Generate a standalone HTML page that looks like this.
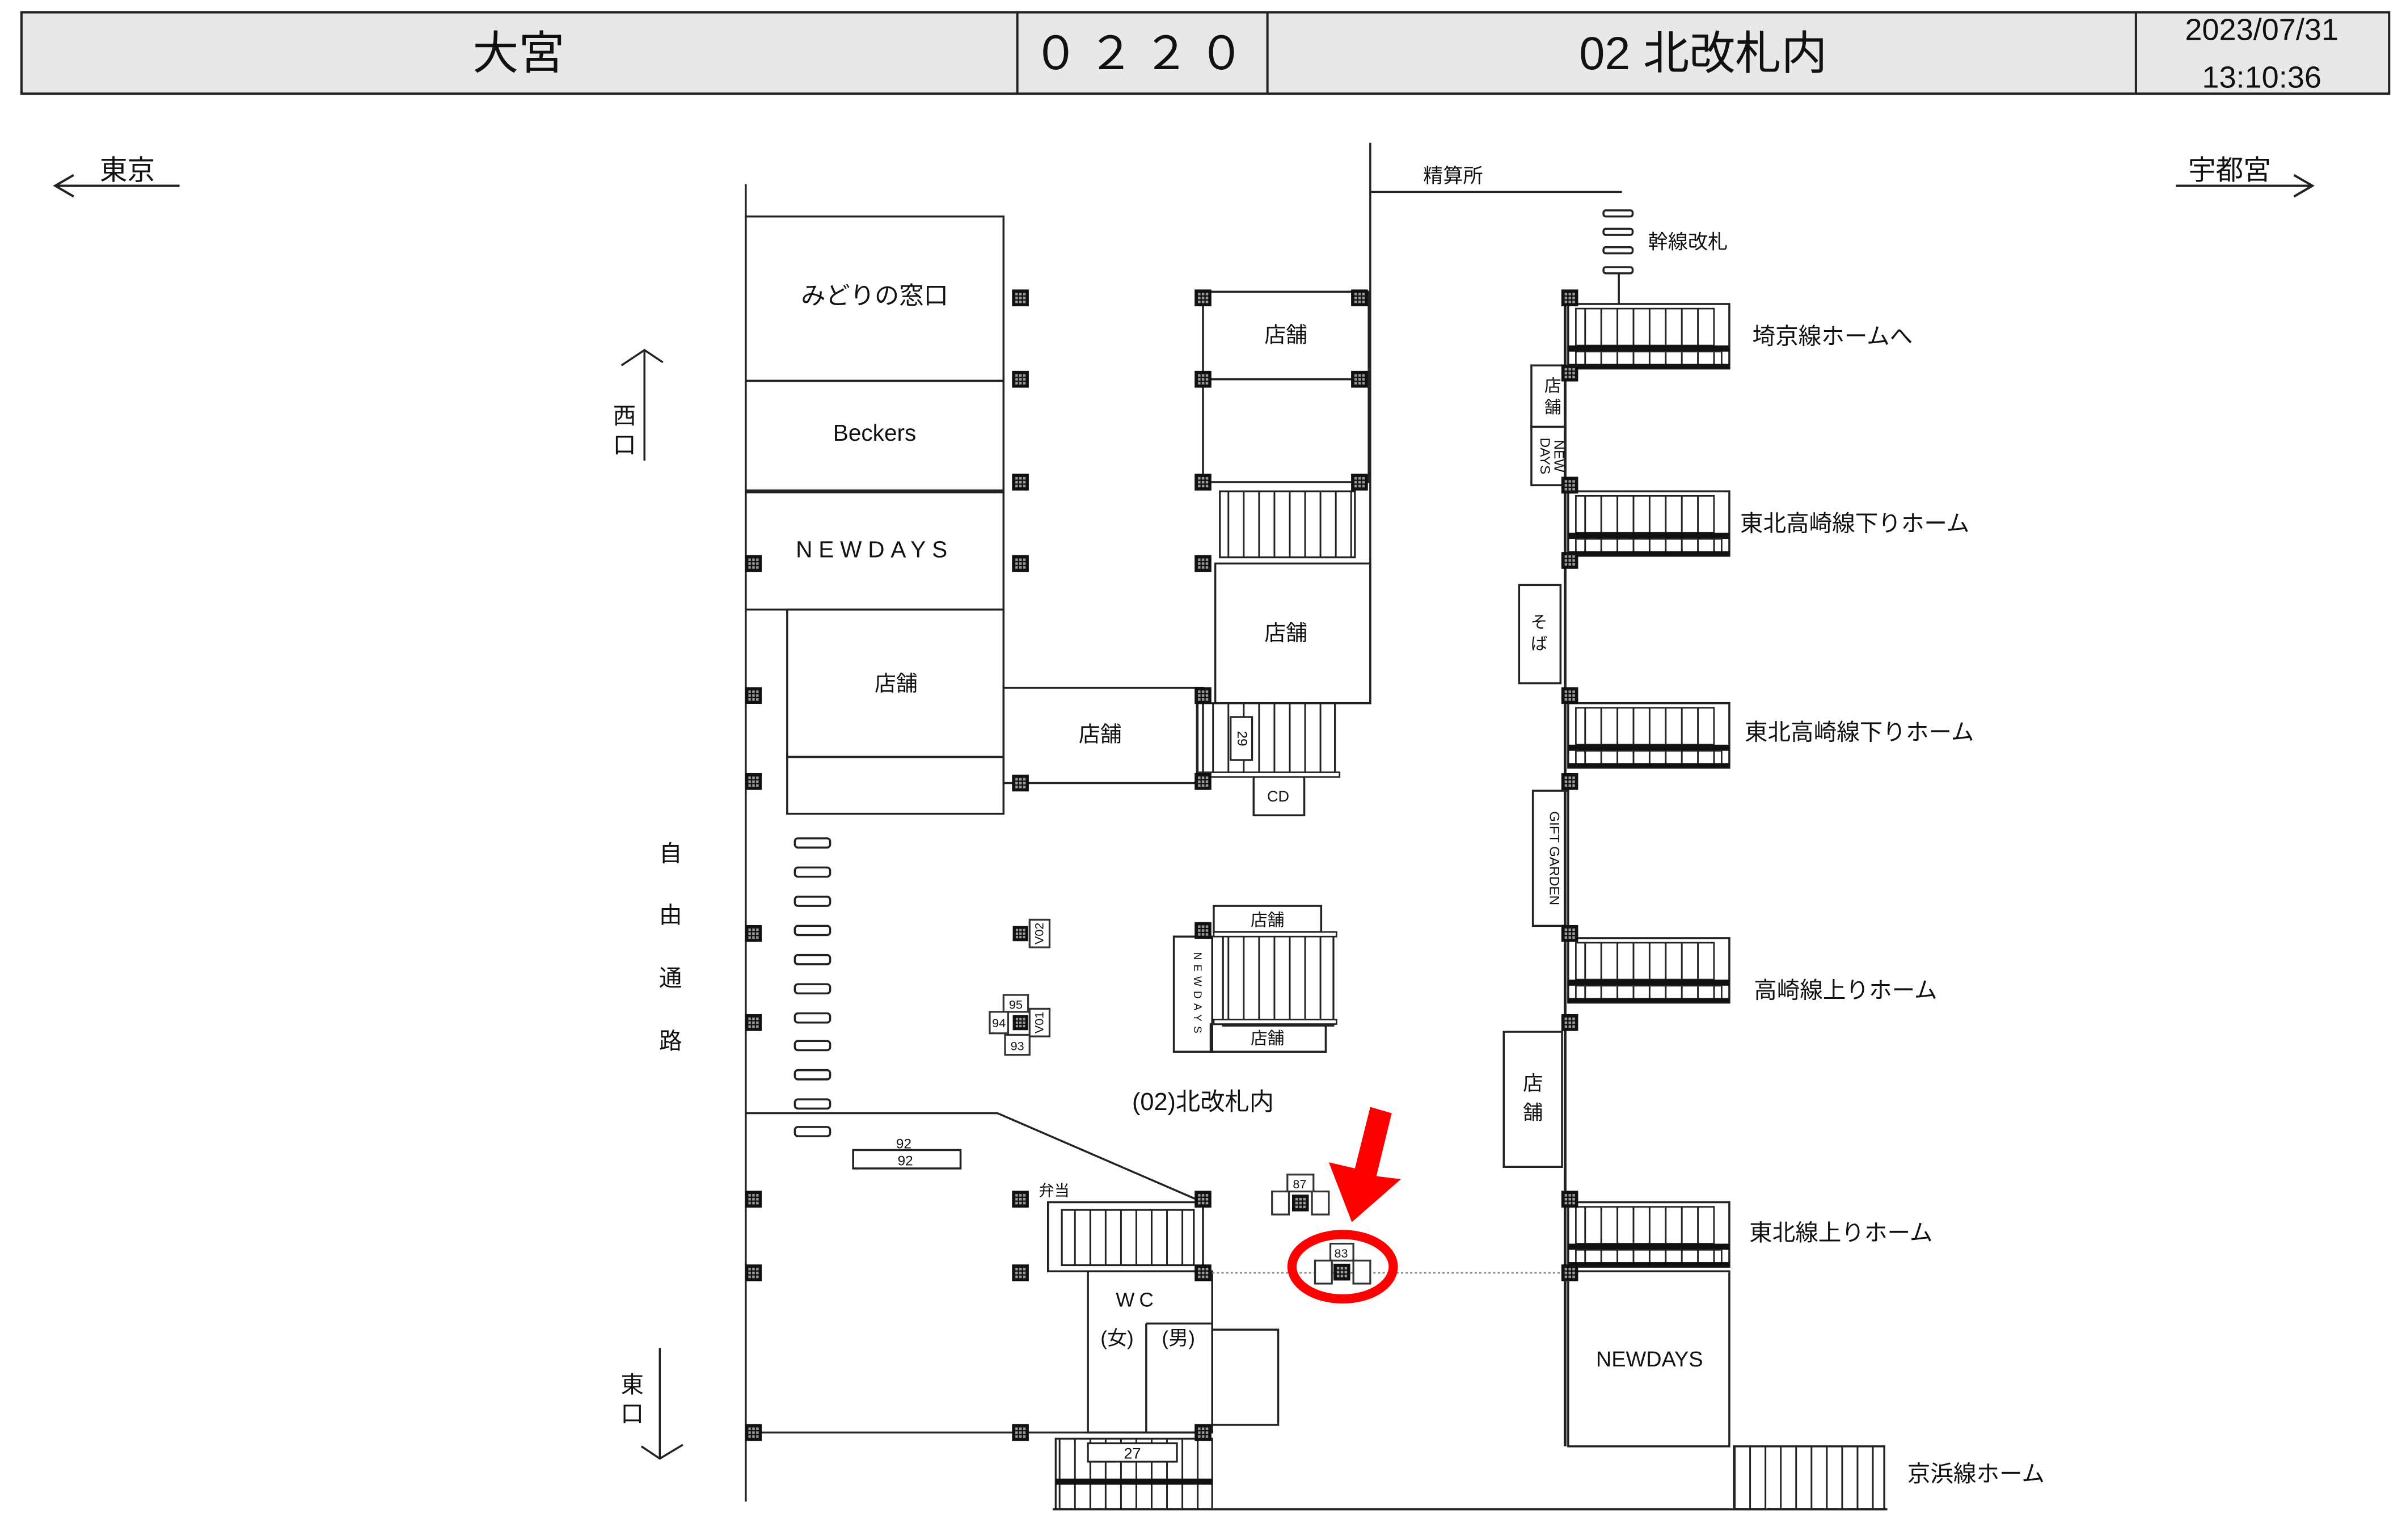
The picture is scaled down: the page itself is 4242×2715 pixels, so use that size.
<!DOCTYPE html>
<html><head><meta charset="utf-8"><style>
html,body{margin:0;padding:0;background:#fff;}
svg{display:block;}
text{font-family:"Liberation Sans","Noto Sans CJK JP",sans-serif;fill:#111;}
</style></head><body>
<svg width="4242" height="2715" viewBox="0 0 1568 1003" preserveAspectRatio="none" xmlns="http://www.w3.org/2000/svg">
<defs>
<pattern id="st" patternUnits="userSpaceOnUse" width="10.5" height="10" x="0" y="0"><line x1="0.5" y1="0" x2="0.5" y2="10" stroke="#222" stroke-width="1.2"/></pattern>
<pattern id="st2" patternUnits="userSpaceOnUse" width="10" height="10" x="0" y="0"><line x1="0.5" y1="0" x2="0.5" y2="10" stroke="#222" stroke-width="1.2"/></pattern>
<symbol id="c" viewBox="0 0 10 10"><rect width="10" height="10" fill="#111"/><g fill="#999"><rect x="2" y="2" width="1.5" height="1.5"/><rect x="4.3" y="2" width="1.5" height="1.5"/><rect x="6.6" y="2" width="1.5" height="1.5"/><rect x="2" y="4.3" width="1.5" height="1.5"/><rect x="4.3" y="4.3" width="1.5" height="1.5"/><rect x="6.6" y="4.3" width="1.5" height="1.5"/><rect x="2" y="6.6" width="1.5" height="1.5"/><rect x="4.3" y="6.6" width="1.5" height="1.5"/><rect x="6.6" y="6.6" width="1.5" height="1.5"/></g></symbol>
<g id="rs">
<rect x="0" y="0" width="105" height="42" fill="#fff" stroke="#222" stroke-width="1.3"/>
<rect x="5" y="3" width="90" height="24" fill="url(#st)" stroke="#222" stroke-width="1"/>
<rect x="0" y="27" width="105" height="4" fill="#111"/>
<rect x="5" y="31" width="95" height="9" fill="url(#st)" stroke="#222" stroke-width="1"/>
<rect x="0" y="39" width="105" height="3" fill="#111"/>
</g>
</defs>

<rect x="14" y="8" width="1543" height="53" fill="#e8e8e8" stroke="#222" stroke-width="1.5"/>
<line x1="663" y1="8" x2="663" y2="61" stroke="#222" stroke-width="1.5"/>
<line x1="826" y1="8" x2="826" y2="61" stroke="#222" stroke-width="1.5"/>
<line x1="1392" y1="8" x2="1392" y2="61" stroke="#222" stroke-width="1.5"/>
<text x="338" y="45" font-size="30" text-anchor="middle">大宮</text>
<text x="745" y="45" font-size="30" text-anchor="middle" letter-spacing="6">０２２０</text>
<text x="1110" y="45" font-size="30" text-anchor="middle">02 北改札内</text>
<text x="1474" y="26" font-size="20" text-anchor="middle">2023/07/31</text>
<text x="1474" y="57" font-size="20" text-anchor="middle">13:10:36</text>

<text x="83" y="117" font-size="18" text-anchor="middle">東京</text>
<line x1="36" y1="121" x2="117" y2="121" stroke="#222" stroke-width="1.5"/>
<polyline points="48,114 36,121 48,128" fill="none" stroke="#222" stroke-width="1.5"/>
<text x="1453" y="117" font-size="18" text-anchor="middle">宇都宮</text>
<line x1="1418" y1="121" x2="1507" y2="121" stroke="#222" stroke-width="1.5"/>
<polyline points="1495,114 1507,121 1495,128" fill="none" stroke="#222" stroke-width="1.5"/>

<g stroke="#222" stroke-width="1.3" fill="none">
<line x1="486" y1="120" x2="486" y2="978"/>
<rect x="486" y="141" width="168" height="107"/>
<rect x="486" y="248" width="168" height="72"/>
<rect x="486" y="320" width="168" height="77"/>
<line x1="486" y1="320" x2="654" y2="320" stroke-width="2.5"/>
<rect x="513" y="397" width="141" height="96"/>
<rect x="513" y="493" width="141" height="37"/>
<rect x="654" y="448" width="130" height="62"/>
<rect x="784" y="190" width="108" height="57"/>
<rect x="784" y="247" width="108" height="67"/>
<line x1="893" y1="93" x2="893" y2="458"/>
<line x1="893" y1="125" x2="1057" y2="125"/>
<rect x="792" y="367" width="101" height="91"/>
<rect x="817" y="505" width="33" height="26"/>
<rect x="1045" y="137" width="19" height="4" rx="1.5"/>
<rect x="1045" y="149" width="19" height="4" rx="1.5"/>
<rect x="1045" y="161" width="19" height="4" rx="1.5"/>
<rect x="1045" y="174" width="19" height="4" rx="1.5"/>
<line x1="1055" y1="178" x2="1055" y2="198"/>
<line x1="1020" y1="198" x2="1020" y2="942" stroke-width="1.8"/>
<rect x="998" y="238" width="22" height="40"/>
<rect x="998" y="278" width="22" height="38"/>
<rect x="990" y="381" width="27" height="64"/>
<rect x="999" y="515" width="23" height="88"/>
<rect x="980" y="672" width="38" height="88"/>
<rect x="1022" y="828" width="105" height="114"/>
<line x1="686" y1="983" x2="1230" y2="983"/>
<rect x="518" y="546" width="23" height="6" rx="2"/>
<rect x="518" y="565" width="23" height="6" rx="2"/>
<rect x="518" y="584" width="23" height="6" rx="2"/>
<rect x="518" y="603" width="23" height="6" rx="2"/>
<rect x="518" y="622" width="23" height="6" rx="2"/>
<rect x="518" y="641" width="23" height="6" rx="2"/>
<rect x="518" y="660" width="23" height="6" rx="2"/>
<rect x="518" y="678" width="23" height="6" rx="2"/>
<rect x="518" y="697" width="23" height="6" rx="2"/>
<rect x="518" y="716" width="23" height="6" rx="2"/>
<rect x="518" y="734" width="23" height="6" rx="2"/>
<line x1="420" y1="228" x2="420" y2="300"/>
<polyline points="405,238 420,228 432,236"/>
<line x1="430" y1="878" x2="430" y2="950"/>
<polyline points="418,942 430,950 445,941"/>
<polyline points="486,725 650,725 784,783"/>
<rect x="556" y="749" width="70" height="12"/>
<line x1="486" y1="933" x2="784" y2="933"/>
<rect x="683" y="783" width="101" height="45"/>
<rect x="709" y="828" width="81" height="105"/>
<line x1="747" y1="862" x2="747" y2="933"/>
<line x1="747" y1="862" x2="790" y2="862"/>
<rect x="790" y="866" width="43" height="62"/>
<rect x="765" y="610" width="25" height="75"/>
<rect x="791" y="590" width="70" height="17"/>
<rect x="789" y="667" width="75" height="18"/>
</g>

<rect x="795" y="320" width="88" height="43" fill="url(#st2)" stroke="#222" stroke-width="1.2"/>
<rect x="780" y="458" width="90" height="47" fill="url(#st2)" stroke="#222" stroke-width="1.2"/>
<rect x="780" y="503" width="93" height="3" fill="#fff" stroke="#222" stroke-width="1"/>
<rect x="802" y="467" width="14" height="28" fill="#fff" stroke="#222" stroke-width="1.2"/>
<text x="809" y="481" font-size="9" text-anchor="middle" transform="rotate(90 809 481)" dominant-baseline="middle">29</text>
<rect x="797" y="609" width="72" height="59" fill="url(#st2)" stroke="#222" stroke-width="1.2"/>
<rect x="791" y="607" width="80" height="3" fill="#fff" stroke="#222" stroke-width="1"/>
<rect x="791" y="664" width="80" height="3" fill="#fff" stroke="#222" stroke-width="1"/>
<rect x="692" y="788" width="86" height="36" fill="url(#st2)" stroke="#222" stroke-width="1.2"/>
<rect x="688" y="937" width="102" height="46" fill="url(#st2)" stroke="#222" stroke-width="1.2"/>
<rect x="688" y="963" width="102" height="4" fill="#111"/>
<rect x="709" y="940" width="58" height="12" fill="#fff" stroke="#222" stroke-width="1.2"/>
<text x="738" y="950" font-size="10" text-anchor="middle">27</text>
<rect x="1130" y="942" width="98" height="41" fill="url(#st2)" stroke="#222" stroke-width="1.3"/>

<use href="#rs" x="1022" y="198"/>
<use href="#rs" x="1022" y="320"/>
<use href="#rs" x="1022" y="458"/>
<use href="#rs" x="1022" y="611"/>
<use href="#rs" x="1022" y="783"/>

<line x1="790" y1="829" x2="1022" y2="829" stroke="#888" stroke-width="1" stroke-dasharray="1.5,1.5"/>

<g>
<use href="#c" x="659.5" y="188.5" width="11" height="11"/>
<use href="#c" x="659.5" y="241.5" width="11" height="11"/>
<use href="#c" x="659.5" y="308.5" width="11" height="11"/>
<use href="#c" x="659.5" y="361.5" width="11" height="11"/>
<use href="#c" x="659.5" y="504.5" width="11" height="11"/>
<use href="#c" x="659.5" y="775.5" width="11" height="11"/>
<use href="#c" x="659.5" y="823.5" width="11" height="11"/>
<use href="#c" x="659.5" y="927.5" width="11" height="11"/>
<use href="#c" x="485.5" y="361.5" width="11" height="11"/>
<use href="#c" x="485.5" y="447.5" width="11" height="11"/>
<use href="#c" x="485.5" y="503.5" width="11" height="11"/>
<use href="#c" x="485.5" y="602.5" width="11" height="11"/>
<use href="#c" x="485.5" y="660.5" width="11" height="11"/>
<use href="#c" x="485.5" y="775.5" width="11" height="11"/>
<use href="#c" x="485.5" y="823.5" width="11" height="11"/>
<use href="#c" x="485.5" y="927.5" width="11" height="11"/>
<use href="#c" x="778.5" y="188.5" width="11" height="11"/>
<use href="#c" x="778.5" y="241.5" width="11" height="11"/>
<use href="#c" x="778.5" y="308.5" width="11" height="11"/>
<use href="#c" x="778.5" y="361.5" width="11" height="11"/>
<use href="#c" x="778.5" y="447.5" width="11" height="11"/>
<use href="#c" x="778.5" y="503.5" width="11" height="11"/>
<use href="#c" x="778.5" y="775.5" width="11" height="11"/>
<use href="#c" x="778.5" y="823.5" width="11" height="11"/>
<use href="#c" x="778.5" y="927.5" width="11" height="11"/>
<use href="#c" x="880.5" y="188.5" width="11" height="11"/>
<use href="#c" x="880.5" y="241.5" width="11" height="11"/>
<use href="#c" x="880.5" y="308.5" width="11" height="11"/>
<use href="#c" x="778.5" y="600.5" width="11" height="11"/>
<use href="#c" x="1017.5" y="188.5" width="11" height="11"/>
<use href="#c" x="1017.5" y="237.5" width="11" height="11"/>
<use href="#c" x="1017.5" y="310.5" width="11" height="11"/>
<use href="#c" x="1017.5" y="359.5" width="11" height="11"/>
<use href="#c" x="1017.5" y="447.5" width="11" height="11"/>
<use href="#c" x="1017.5" y="503.5" width="11" height="11"/>
<use href="#c" x="1017.5" y="602.5" width="11" height="11"/>
<use href="#c" x="1017.5" y="660.5" width="11" height="11"/>
<use href="#c" x="1017.5" y="775.5" width="11" height="11"/>
<use href="#c" x="1017.5" y="823.5" width="11" height="11"/>
</g>

<g stroke="#333" stroke-width="1.2" fill="#fff">
<rect x="671" y="599" width="13" height="18"/>
<rect x="654" y="648" width="16" height="11"/>
<rect x="645" y="659" width="12" height="14"/>
<rect x="671" y="657" width="13" height="18"/>
<rect x="655" y="674" width="16" height="13"/>
<rect x="839" y="765" width="17" height="11"/>
<rect x="829" y="776" width="11" height="15"/>
<rect x="855" y="776" width="11" height="15"/>
<rect x="867" y="810" width="15" height="11"/>
<rect x="857" y="821" width="11" height="15"/>
<rect x="882" y="821" width="11" height="15"/>
</g>
<use href="#c" x="660" y="603" width="10" height="10"/>
<use href="#c" x="660" y="661" width="10" height="10"/>
<use href="#c" x="842" y="778" width="11" height="11"/>
<use href="#c" x="869" y="823" width="11" height="11"/>
<g font-size="8" text-anchor="middle">
<text x="677" y="611" transform="rotate(-90 677 608)">V02</text>
<text x="677" y="669" transform="rotate(-90 677 666)">V01</text>
<text x="662" y="657">95</text><text x="663" y="684">93</text>
<text x="651" y="669">94</text>
<text x="847" y="774">87</text><text x="874" y="819">83</text>
</g>

<ellipse cx="875" cy="825" rx="33" ry="21" fill="none" stroke="#f00" stroke-width="6"/>
<polygon points="893,721 907,725 897,766 913,768 881,796 866,757 883,761" fill="#f00"/>

<g font-size="15" text-anchor="middle">
<text x="570" y="198" font-size="16">みどりの窓口</text>
<text x="570" y="287" font-size="15">Beckers</text>
<text x="570" y="363" font-size="15" letter-spacing="4">NEWDAYS</text>
<text x="584" y="450" font-size="14">店舗</text>
<text x="717" y="483" font-size="14">店舗</text>
<text x="838" y="223" font-size="14">店舗</text>
<text x="838" y="417" font-size="14">店舗</text>
<text x="833" y="522" font-size="10">CD</text>
<text x="947" y="119" font-size="13">精算所</text>
<text x="826" y="603" font-size="11">店舗</text>
<text x="826" y="680" font-size="11">店舗</text>
<text x="784" y="723" font-size="16">(02)北改札内</text>
<text x="589" y="748" font-size="9">92</text>
<text x="590" y="759" font-size="9">92</text>
<text x="687" y="779" font-size="10">弁当</text>
<text x="741" y="851" font-size="13" letter-spacing="3">WC</text>
<text x="728" y="876" font-size="13">(女)</text>
<text x="768" y="876" font-size="13">(男)</text>
<text x="1075" y="890" font-size="14">NEWDAYS</text>
</g>
<g font-size="11" text-anchor="middle">
<text x="1012" y="255">店</text><text x="1012" y="269">舗</text>
<text x="1003" y="409">そ</text><text x="1003" y="423">ば</text>
<text x="999" y="710" font-size="13">店</text><text x="999" y="729" font-size="13">舗</text>
</g>
<text x="1013" y="297" font-size="9" text-anchor="middle" transform="rotate(90 1013 297)">NEW</text>
<text x="1004" y="297" font-size="9" text-anchor="middle" transform="rotate(90 1004 297)">DAYS</text>
<text x="1010" y="559" font-size="9" text-anchor="middle" transform="rotate(90 1010 559)">GIFT GARDEN</text>
<text x="778" y="648" font-size="7" text-anchor="middle" transform="rotate(90 778 648)" letter-spacing="3">NEWDAYS</text>
<g font-size="15">
<text x="1074" y="162" font-size="13">幹線改札</text>
<text x="1142" y="224">埼京線ホームへ</text>
<text x="1134" y="346">東北高崎線下りホーム</text>
<text x="1137" y="482">東北高崎線下りホーム</text>
<text x="1143" y="650">高崎線上りホーム</text>
<text x="1140" y="808">東北線上りホーム</text>
<text x="1243" y="965">京浜線ホーム</text>
</g>
<g font-size="15" text-anchor="middle">
<text x="437" y="561">自</text><text x="437" y="601">由</text><text x="437" y="642">通</text><text x="437" y="683">路</text>
<text x="407" y="276">西</text><text x="407" y="295">口</text>
<text x="412" y="907">東</text><text x="412" y="926">口</text>
</g>
</svg>
</body></html>
